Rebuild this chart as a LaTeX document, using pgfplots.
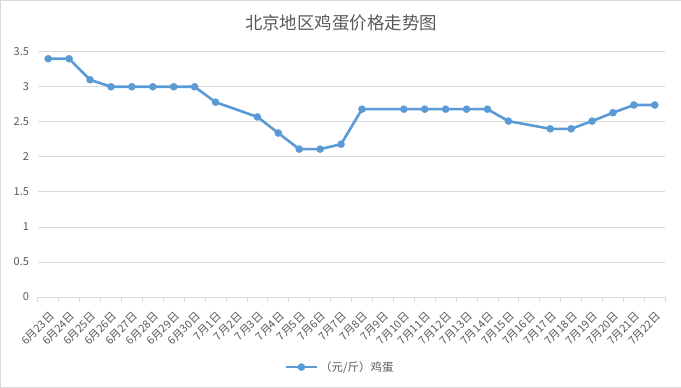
\documentclass[border=0pt]{standalone}
\usepackage{pgfplots}
\pgfplotsset{compat=1.18}
\usepackage{fontspec}
\setmainfont{Noto Sans CJK SC}
\definecolor{lineblue}{HTML}{5B9BD5}
\definecolor{txtgray}{HTML}{595959}
\definecolor{gridgray}{HTML}{D9D9D9}
\begin{document}
\begin{tikzpicture}
\draw[gridgray, use as bounding box] (0.5bp,0.5bp) rectangle (680.5bp,387.5bp);
\node[txtgray, font=\fontsize{17.5}{19}\selectfont] at (341bp,365bp) {北京地区鸡蛋价格走势图};
\begin{axis}[
  at={(38bp,91bp)}, anchor=south west,
  width=627bp, height=245bp, scale only axis,
  xmin=-0.5, xmax=29.5, ymin=0, ymax=3.5,
  ytick={0,0.5,...,3.5},
  yticklabels={0,0.5,1,1.5,2,2.5,3,3.5},
  xtick={0,...,29},
  xticklabels={6月23日,6月24日,6月25日,6月26日,6月27日,6月28日,6月29日,6月30日,7月1日,7月2日,7月3日,7月4日,7月5日,7月6日,7月7日,7月8日,7月9日,7月10日,7月11日,7月12日,7月13日,7月14日,7月15日,7月16日,7月17日,7月18日,7月19日,7月20日,7月21日,7月22日},
  minor xtick={-0.5,0.5,...,29.5},
  axis x line*=bottom,
  axis y line*=left,
  x axis line style={gridgray, line width=0.75bp, -},
  y axis line style={draw=none},
  xtick style={draw=none},
  ytick style={draw=none},
  minor x tick style={draw=gridgray, line width=0.75bp},
  minor tick length=5bp,
  tick align=outside,
  ymajorgrids, major grid style={gridgray, line width=0.75bp},
  /pgf/number format/assume math mode=true,
  yticklabel style={txtgray, font=\fontsize{11}{12}\selectfont, xshift=-1bp},
  xticklabel style={txtgray, font=\fontsize{11}{12}\selectfont, rotate=45, anchor=east, xshift=-3bp, yshift=-12bp},
  clip=false,
  legend style={at={(0.4817,-0.286)}, anchor=center, draw=none, fill=none, font=\fontsize{11.5}{12}\selectfont, text=txtgray, inner sep=0pt},
  legend image code/.code={\draw[mark repeat=2,mark phase=2] plot coordinates {(0bp,0bp)(15.5bp,0bp)(31bp,0bp)};},
]
\addplot[lineblue, line width=2.6bp, mark=*, mark size=3.5bp, mark options={fill=lineblue, draw=lineblue, line width=0.5bp}] coordinates {
(0,3.4)(1,3.4)(2,3.1)(3,3.0)(4,3.0)(5,3.0)(6,3.0)(7,3.0)(8,2.78)
(10,2.57)(11,2.34)(12,2.11)(13,2.11)(14,2.18)(15,2.68)
(17,2.68)(18,2.68)(19,2.68)(20,2.68)(21,2.68)(22,2.51)
(24,2.40)(25,2.40)(26,2.51)(27,2.63)(28,2.74)(29,2.74)
};
\addlegendentry{（元/斤）鸡蛋}
\end{axis}
\end{tikzpicture}
\end{document}
